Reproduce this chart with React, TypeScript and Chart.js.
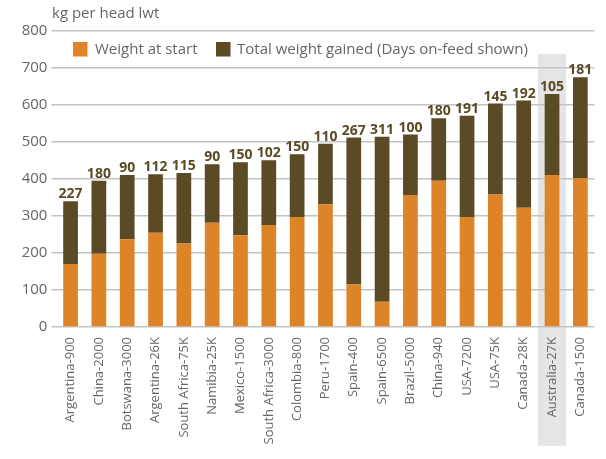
import React, { useEffect, useRef } from "react";
import { Chart, registerables } from "chart.js";

Chart.register(...registerables);

const categories = [
  "Argentina-900", "China-2000", "Botswana-3000", "Argentina-26K", "South Africa-75K",
  "Namibia-25K", "Mexico-1500", "South Africa-3000", "Colombia-800", "Peru-1700",
  "Spain-400", "Spain-6500", "Brazil-5000", "China-940", "USA-7200",
  "USA-75K", "Canada-28K", "Australia-27K", "Canada-1500",
];
const weightAtStart = [170, 198, 237, 255, 226, 282, 248, 276, 297, 332, 115, 68, 357, 395, 297, 358, 322, 411, 403];
const totalGained = [170, 197, 174, 158, 190, 158, 197, 175, 170, 163, 397, 446, 163, 169, 274, 246, 290, 219, 272];
const daysOnFeed = [227, 180, 90, 112, 115, 90, 150, 102, 150, 110, 267, 311, 100, 180, 191, 145, 192, 105, 181];
const highlightIndex = 17;
const yTicks = [0, 100, 200, 300, 400, 500, 600, 700, 800];

const ORANGE = "rgb(221,132,40)";
const BROWN = "rgb(91,74,38)";
const TEXT = "rgb(102,102,102)";
const FONT = "'Open Sans', sans-serif";

export default function App() {
  const ref = useRef<HTMLCanvasElement | null>(null);
  useEffect(() => {
    document.body.style.margin = "0";
    const canvas = ref.current!;
    const overlay = {
      id: "overlay",
      beforeDraw(chart: any) {
        const ctx = chart.ctx;
        const x = chart.scales.x;
        const y = chart.scales.y;
        const cx = x.getPixelForValue(highlightIndex);
        const w = (x.right - x.left) / categories.length;
        ctx.save();
        ctx.fillStyle = "rgb(228,229,231)";
        const top = y.getPixelForValue(738);
        const bottom = chart.chartArea.bottom + 119;
        ctx.fillRect(cx - w / 2, top, w, bottom - top);
        ctx.restore();
      },
      afterDatasetsDraw(chart: any) {
        const ctx = chart.ctx;
        const x = chart.scales.x;
        const y = chart.scales.y;
        ctx.save();
        ctx.fillStyle = BROWN;
        ctx.font = `bold 14px ${FONT}`;
        ctx.textAlign = "center";
        ctx.textBaseline = "alphabetic";
        categories.forEach((_, i) => {
          const px = x.getPixelForValue(i);
          const py = y.getPixelForValue(weightAtStart[i] + totalGained[i]);
          ctx.fillText(String(daysOnFeed[i]), px, py - 3);
        });
        // axis title
        ctx.fillStyle = TEXT;
        ctx.font = `15px ${FONT}`;
        ctx.textAlign = "left";
        ctx.fillText("kg per head lwt", 52, 18);
        // legend
        const items = [
          { label: chart.data.datasets[0].label, color: ORANGE, bx: 73, tx: 95 },
          { label: chart.data.datasets[1].label, color: BROWN, bx: 216, tx: 237 },
        ];
        ctx.textBaseline = "middle";
        items.forEach((it) => {
          ctx.fillStyle = it.color;
          ctx.fillRect(it.bx, 42, 14.5, 14.5);
          ctx.fillStyle = TEXT;
          ctx.fillText(it.label, it.tx, 50);
        });
        ctx.restore();
      },
    };
    const chart = new Chart(canvas, {
      type: "bar",
      data: {
        labels: categories,
        datasets: [
          { label: "Weight at start", data: weightAtStart, backgroundColor: ORANGE, barPercentage: 0.52, categoryPercentage: 1 },
          { label: "Total weight gained (Days on-feed shown)", data: totalGained, backgroundColor: BROWN, barPercentage: 0.52, categoryPercentage: 1 },
        ],
      },
      options: {
        responsive: false,
        animation: false,
        layout: { padding: { top: 31, right: 2, left: 0, bottom: 0 } },
        plugins: { legend: { display: false }, tooltip: { enabled: false } },
        scales: {
          x: {
            stacked: true,
            grid: { display: false, drawTicks: false },
            border: { display: false },
            ticks: {
              color: TEXT,
              font: { family: FONT, size: 13 },
              minRotation: 90,
              maxRotation: 90,
              autoSkip: false,
              padding: 10,
            },
            afterFit(scale: any) { scale.height = 132; },
          },
          y: {
            stacked: true,
            min: 0,
            max: 800,
            afterBuildTicks(scale: any) { scale.ticks = yTicks.map((v) => ({ value: v })); },
            grid: { color: "rgb(195,195,195)", lineWidth: 1.5, tickLength: 5 },
            border: { display: false },
            ticks: { color: TEXT, font: { family: FONT, size: 15 }, padding: 4 },
            afterFit(scale: any) { scale.width = 56.4; },
          },
        },
      },
      plugins: [overlay],
    });
    return () => chart.destroy();
  }, []);
  return <canvas ref={ref} width={606} height={459} style={{ display: "block" }} />;
}
